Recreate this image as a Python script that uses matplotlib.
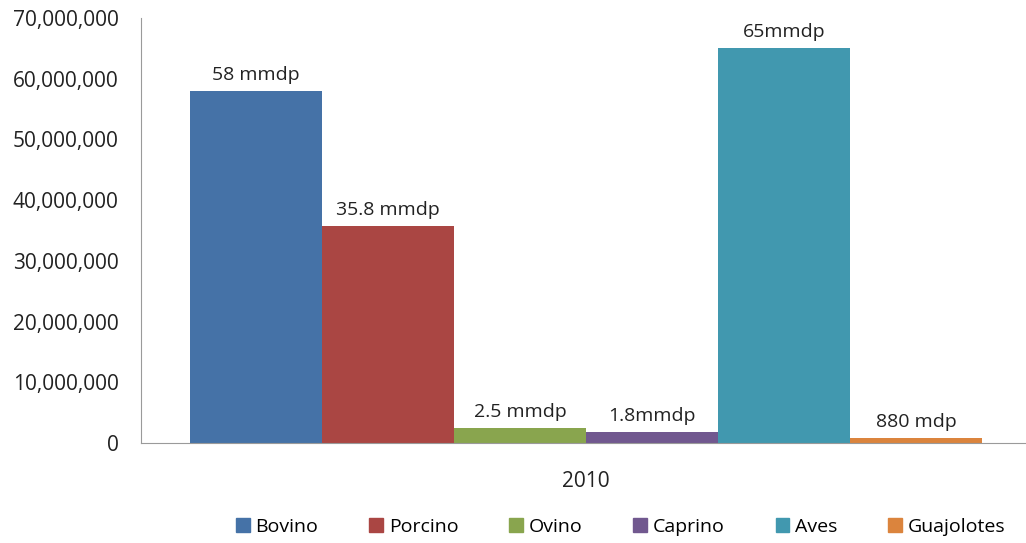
import matplotlib.pyplot as plt
from matplotlib.ticker import FuncFormatter
from matplotlib.patches import Patch

especies = ['Bovino', 'Porcino', 'Ovino', 'Caprino', 'Aves', 'Guajolotes']
valores = [58000000, 35800000, 2500000, 1800000, 65000000, 880000]
etiquetas = ['58 mmdp', '35.8 mmdp', '2.5 mmdp', '1.8mmdp', '65mmdp', '880 mdp']
colores = ['#4572A7', '#AA4643', '#89A54E', '#71588F', '#4198AF', '#DB843D']
anio = '2010'

plt.rcParams['font.family'] = ['Open Sans', 'DejaVu Sans']

fig = plt.figure(figsize=(10.26, 5.43), dpi=100)
ax = fig.add_axes([0.1374, 0.1842, 0.8626, 0.7827])

x = range(len(especies))
barras = ax.bar(x, valores, width=1.0, color=colores)

for b, txt in zip(barras, etiquetas):
    ax.annotate(txt, (b.get_x() + b.get_width() / 2, b.get_height()),
                xytext=(0, 5), textcoords='offset points',
                ha='center', va='bottom', fontsize=14, color='#222222')

ax.set_ylim(0, 70000000)
ax.set_xlim(-0.871, 5.833)
ax.set_yticks(range(0, 70000001, 10000000))
ax.yaxis.set_major_formatter(FuncFormatter(lambda v, p: f'{int(v):,}'))
ax.tick_params(axis='y', length=0, labelsize=15, pad=16, colors='#222222')
ax.set_xticks([2.5])
ax.set_xticklabels([anio])
ax.tick_params(axis='x', length=0, labelsize=15, pad=20, colors='#222222')

for s in ['top', 'right']:
    ax.spines[s].set_visible(False)
ax.spines['left'].set_color('#9a9a9a')
ax.spines['bottom'].set_color('#9a9a9a')

handles = [Patch(color=c, label=e) for c, e in zip(colores, especies)]
fig.legend(handles=handles, loc='center', bbox_to_anchor=(0.605, 0.03), ncol=6,
           frameon=False, fontsize=14, handlelength=0.7, handleheight=0.7,
           handletextpad=0.3, columnspacing=2.62)

fig.savefig('out.png', dpi=100)
